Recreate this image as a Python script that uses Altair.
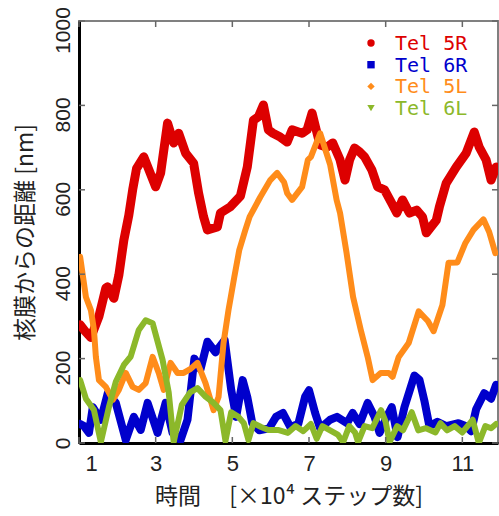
import altair as alt
import pandas as pd

# ---------------- data ----------------
series_names = ["Tel 5R", "Tel 6R", "Tel 5L", "Tel 6L"]
series_colors = ["#dd0000", "#0000cc", "#ff8c1a", "#8cb82a"]
series_shapes = ["circle", "square", "diamond", "triangle-down"]

red_x = [1.03, 1.16, 1.31, 1.52, 1.70, 1.75, 1.91, 2.04, 2.17, 2.30, 2.40, 2.50, 2.69, 3.00, 3.13,
         3.31, 3.47, 3.60, 3.78, 3.99, 4.12, 4.25, 4.35, 4.61, 4.69, 4.95, 5.21, 5.39, 5.55, 5.68,
         5.81, 5.94, 6.06, 6.25, 6.43, 6.56, 6.82, 6.95, 7.08, 7.21, 7.29, 7.47, 7.62, 7.81, 7.94,
         8.06, 8.19, 8.32, 8.45, 8.64, 8.79, 8.97, 9.16, 9.29, 9.44, 9.62, 9.81, 9.96, 10.06, 10.32,
         10.40, 10.58, 10.84, 11.10, 11.31, 11.44, 11.62, 11.75, 11.88]
red_y = [280, 265, 250, 300, 367, 370, 343, 398, 481, 540, 600, 650, 678, 607, 640,
         758, 711, 734, 687, 663, 592, 536, 505, 512, 545, 560, 585, 654, 765, 773,
         801, 742, 734, 725, 713, 742, 734, 742, 782, 734, 706, 701, 711, 671, 623,
         671, 699, 690, 678, 647, 607, 600, 568, 545, 576, 545, 552, 536, 498, 528,
         559, 616, 654, 687, 737, 701, 671, 623, 654]

blue_x = [1.03, 1.13, 1.26, 1.36, 1.57, 1.75, 1.96, 2.22, 2.43, 2.61, 2.79, 3.05, 3.26, 3.44, 3.65,
          3.83, 4.01, 4.17, 4.35, 4.56, 4.80, 4.97, 5.10, 5.27, 5.39, 5.52, 5.70, 5.96, 6.14, 6.32,
          6.51, 6.72, 6.90, 7.00, 7.16, 7.29, 7.55, 7.73, 7.99, 8.14, 8.32, 8.53, 8.71, 8.84, 9.03,
          9.16, 9.31, 9.49, 9.75, 9.88, 10.01, 10.14, 10.35, 10.58, 10.90, 11.10, 11.23, 11.36, 11.57,
          11.75, 11.88]
blue_y = [45, 40, 24, 85, 55, 118, 95, 7, 62, 31, 95, 24, 95, 24, 7,
          55, 200, 175, 240, 215, 244, 126, 62, 149, 109, 47, 30, 35, 62, 71,
          38, 45, 110, 125, 71, 35, 55, 62, 47, 71, 45, 95, 62, 24, 62,
          85, 14, 85, 160, 150, 100, 40, 50, 40, 47, 40, 28, 80, 118,
          105, 138]

orange_x = [1.03, 1.18, 1.31, 1.39, 1.44, 1.52, 1.70, 1.88, 2.04, 2.22, 2.40, 2.56, 2.74, 2.92, 3.08,
            3.21, 3.39, 3.57, 3.73, 3.90, 4.09, 4.30, 4.51, 4.64, 4.77, 4.90, 5.05, 5.18, 5.34, 5.45,
            5.73, 5.99, 6.17, 6.35, 6.43, 6.56, 6.82, 6.97, 7.05, 7.29, 7.55, 7.72, 7.81, 7.98, 8.15,
            8.35, 8.53, 8.66, 8.87, 9.08, 9.18, 9.34, 9.60, 9.86, 10.10, 10.25, 10.48, 10.64, 10.87,
            11.08, 11.29, 11.55, 11.70, 11.86]
orange_y = [441, 346, 315, 268, 204, 149, 133, 102, 126, 166, 133, 126, 142, 204, 166,
            126, 190, 166, 166, 175, 190, 142, 78, 109, 237, 315, 393, 457, 505, 536,
            583, 623, 640, 618, 592, 576, 607, 671, 678, 734, 660, 576, 545, 450, 346,
            268, 204, 149, 166, 166, 157, 204, 237, 312, 289, 265, 327, 427, 428,
            474, 505, 530, 500, 450]

green_x = [1.03, 1.18, 1.39, 1.57, 1.78, 1.96, 2.17, 2.35, 2.56, 2.74, 2.92, 3.18, 3.34, 3.47, 3.68,
           3.90, 4.09, 4.30, 4.51, 4.69, 4.82, 4.97, 5.16, 5.30, 5.42, 5.55, 5.75, 5.94, 6.19, 6.45,
           6.65, 6.85, 7.05, 7.20, 7.35, 7.55, 7.75, 7.89, 8.05, 8.20, 8.28, 8.45, 8.65, 8.88, 9.00,
           9.10, 9.30, 9.45, 9.68, 9.85, 10.05, 10.30, 10.43, 10.60, 10.80, 11.00, 11.27, 11.43, 11.60,
           11.75, 11.88]
green_y = [149, 105, 78, 2, 85, 145, 185, 205, 268, 291, 284, 197, 120, 2, 90,
           120, 130, 110, 95, 78, 5, 73, 62, 47, 7, 47, 38, 31, 31, 24,
           40, 28, 45, 10, 40, 30, 20, 2, 40, 25, 2, 40, 35, 78, 50,
           2, 40, 30, 73, 30, 35, 25, 47, 30, 40, 25, 55, 0, 40,
           35, 45]

x_ticks = [1, 3, 5, 7, 9, 11]
y_ticks = [0, 200, 400, 600, 800, 1000]
x_title = "時間　 [×10⁴ ステップ数]"
y_title = "核膜からの距離 [nm]"

# ---------------- chart ----------------
W, H = 419, 422
xscale = alt.Scale(domain=[1, 11.93], nice=False, zero=False)
yscale = alt.Scale(domain=[0, 1000], nice=False)


def df_of(xs, ys):
    assert len(xs) == len(ys)
    return pd.DataFrame({"t": xs, "d": ys})


x_axis = alt.Axis(values=x_ticks, format="d", tickSize=0, grid=False, domainColor="black", domainWidth=3,
                  labelFont="Liberation Sans", labelFontSize=22, labelColor="#222", labelPadding=10,
                  labelOffset={"condition": {"test": "datum.value == 1", "value": 6}, "value": 0},
                  title=x_title, titleFont="Noto Sans CJK JP", titleFontSize=23,
                  titleFontWeight="normal", titleColor="#222", titlePadding=11)
y_axis = alt.Axis(values=y_ticks, format="d", tickSize=0, grid=False, domainColor="black", domainWidth=3,
                  labelFont="Liberation Sans", labelFontSize=21, labelColor="#222", labelPadding=6,
                  labelAngle=270, labelAlign="center", labelBaseline="bottom",
                  labelOffset={"condition": {"test": "datum.value == 0", "value": 0}, "value": 9},
                  title=y_title, titleFont="Noto Sans CJK JP", titleFontSize=23,
                  titleFontWeight="normal", titleColor="#222", titlePadding=15)


def X(field):
    return alt.X(f"{field}:Q", scale=xscale, axis=x_axis)


def Y(field):
    return alt.Y(f"{field}:Q", scale=yscale, axis=y_axis)


def line(xs, ys, color, width):
    return alt.Chart(df_of(xs, ys)).mark_line(
        color=color, strokeWidth=width, strokeJoin="round", strokeCap="round", clip=True
    ).encode(x=X("t"), y=Y("d"))


layers = [
    line(red_x, red_y, series_colors[0], 9),
    line(blue_x, blue_y, series_colors[1], 8),
    line(orange_x, orange_y, series_colors[2], 6),
    line(green_x, green_y, series_colors[3], 6),
]

# inward ticks on all four sides
ydf = pd.DataFrame({"d": y_ticks})
xdf = pd.DataFrame({"t": x_ticks})
tick_style = dict(color="#666", strokeWidth=1.5)
layers += [
    alt.Chart(ydf).mark_rule(**tick_style).encode(y=Y("d"), x=alt.value(0), x2=alt.value(6)),
    alt.Chart(ydf).mark_rule(**tick_style).encode(y=Y("d"), x=alt.value(W), x2=alt.value(W - 6)),
    alt.Chart(xdf).mark_rule(**tick_style).encode(x=X("t"), y=alt.value(0), y2=alt.value(6)),
    alt.Chart(xdf).mark_rule(**tick_style).encode(x=X("t"), y=alt.value(H), y2=alt.value(H - 6)),
]

# legend (inside, top right)
for i, (name, color, shape) in enumerate(zip(series_names, series_colors, series_shapes)):
    ldf = pd.DataFrame({"label": [name]})
    yy = 22 + i * 21.7
    layers.append(alt.Chart(ldf).mark_point(shape=shape, filled=True, color=color, size=55, opacity=1)
                  .encode(x=alt.value(292), y=alt.value(yy)))
    layers.append(alt.Chart(ldf).mark_text(font="DejaVu Sans Mono", fontSize=20, color=color,
                                           align="left", baseline="middle")
                  .encode(text="label:N", x=alt.value(316), y=alt.value(yy + 1)))

chart = alt.layer(*layers).properties(
    width=W, height=H,
    autosize=alt.AutoSizeParams(type="none"),
    padding={"left": 79, "top": 21, "right": 1, "bottom": 73},
    background="white",
).configure_view(stroke="#808080", strokeWidth=2)

chart.save("out.html", embed_options={"renderer": "svg", "actions": False})
